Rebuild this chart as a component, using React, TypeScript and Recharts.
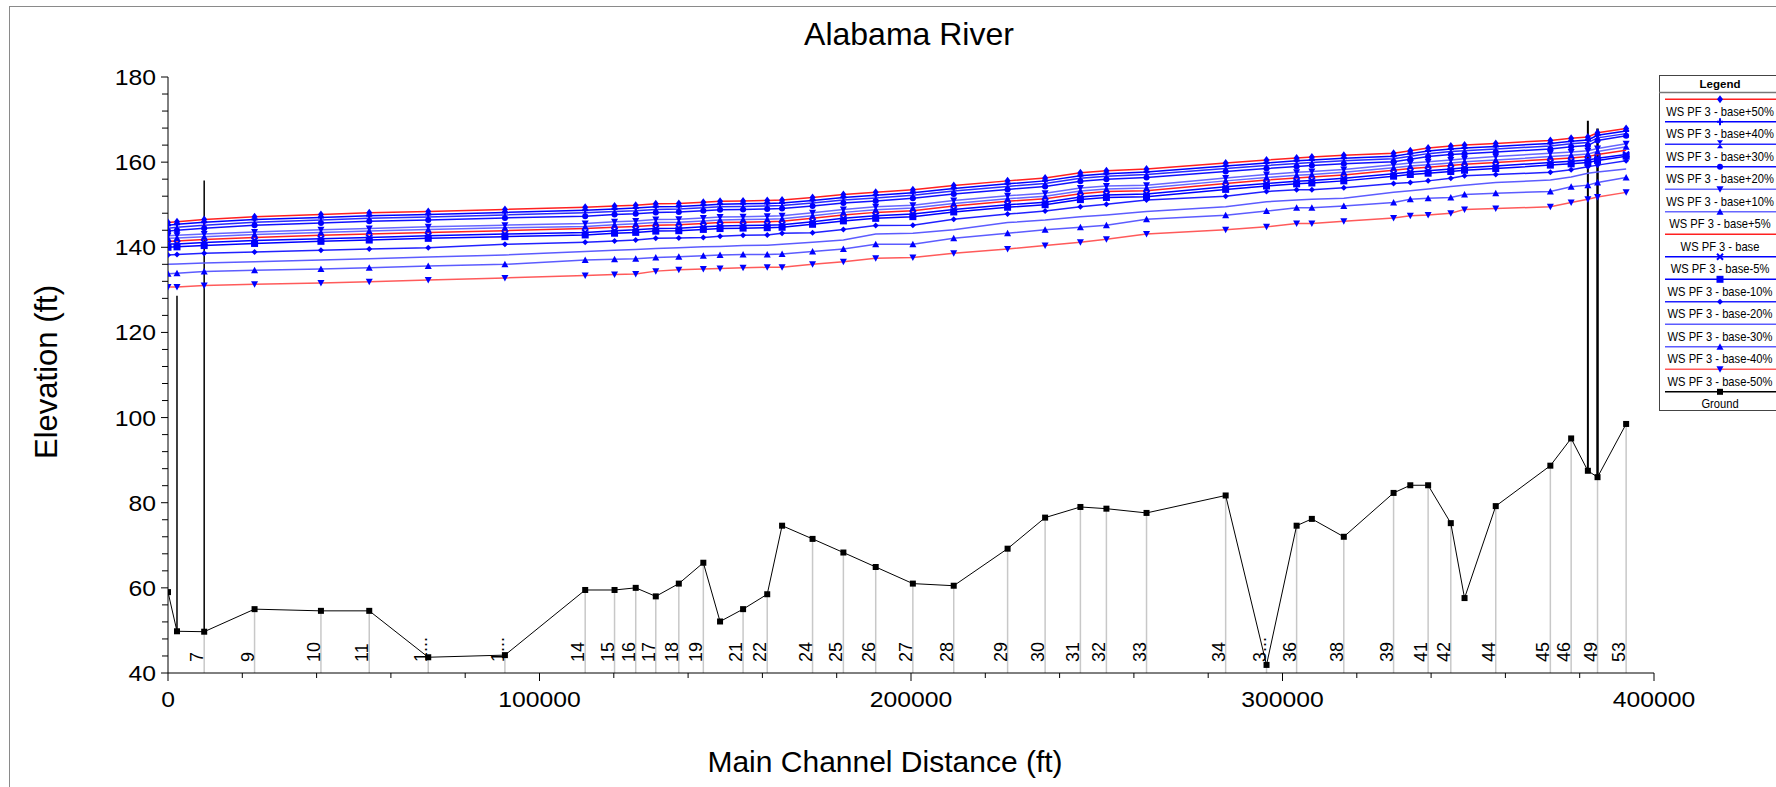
import React from "react";
import { ComposedChart, Line, XAxis, YAxis, ReferenceLine } from "recharts";

// cross sections along the main channel (ft) and their river station names
const stationX = [0, 2420, 9740, 23300, 41170, 54170, 70050, 90690, 112300, 120200, 125900, 131300, 137500, 144100, 148600, 154800, 161300, 165300, 173500, 181800, 190500, 200500, 211500, 226000, 236100, 245600, 252600, 263400, 284700, 295700, 303800, 307900, 316500, 329900, 334400, 339200, 345300, 349000, 357400, 372100, 377700, 382200, 384800, 392500];
const stationLabel = ["", "", "7", "9", "10", "11", "1...", "1...", "14", "15", "16", "17", "18", "19", "", "21", "22", "", "24", "25", "26", "27", "28", "29", "30", "31", "32", "33", "34", "3...", "36", "", "38", "39", "", "41", "42", "", "44", "45", "46", "", "49", "53"];
const ground = [59.0, 49.8, 49.7, 55.0, 54.6, 54.6, 43.7, 44.2, 59.5, 59.5, 60.0, 58.0, 61.0, 65.9, 52.1, 55.0, 58.5, 74.6, 71.5, 68.3, 64.9, 61.0, 60.5, 69.2, 76.5, 79.0, 78.6, 77.6, 81.7, 41.9, 74.6, 76.2, 72.0, 82.3, 84.1, 84.1, 75.2, 57.6, 79.2, 88.7, 95.1, 87.5, 86.0, 98.5];

// water surface elevations, profile PF 3
const wsPlus50 = [145.8, 146.0, 146.5, 147.2, 147.7, 148.1, 148.4, 148.9, 149.4, 149.7, 149.9, 150.2, 150.3, 150.6, 150.8, 150.9, 151.0, 151.1, 151.7, 152.4, 152.9, 153.5, 154.5, 155.6, 156.3, 157.5, 158.0, 158.4, 159.8, 160.5, 161.0, 161.2, 161.6, 162.1, 162.7, 163.3, 163.8, 164.0, 164.4, 165.1, 165.6, 165.9, 166.9, 167.9];
const wsPlus40 = [145.2, 145.4, 145.9, 146.5, 147.0, 147.4, 147.7, 148.2, 148.7, 149.0, 149.2, 149.5, 149.6, 149.9, 150.1, 150.2, 150.3, 150.4, 151.0, 151.7, 152.2, 152.8, 153.8, 154.9, 155.6, 156.8, 157.3, 157.7, 159.1, 159.8, 160.3, 160.5, 160.9, 161.4, 162.0, 162.6, 163.1, 163.3, 163.7, 164.4, 164.9, 165.2, 166.3, 167.3];
const wsPlus30 = [144.5, 144.7, 145.2, 145.9, 146.4, 146.8, 147.1, 147.6, 148.1, 148.4, 148.6, 148.9, 149.0, 149.3, 149.5, 149.6, 149.7, 149.8, 150.4, 151.1, 151.6, 152.2, 153.2, 154.3, 155.0, 156.2, 156.7, 157.1, 158.5, 159.2, 159.7, 159.9, 160.3, 160.8, 161.4, 162.0, 162.5, 162.7, 163.1, 163.8, 164.3, 164.6, 165.7, 166.7];
const wsPlus20 = [143.8, 144.0, 144.5, 145.2, 145.7, 146.1, 146.4, 146.9, 147.3, 147.7, 147.9, 148.2, 148.3, 148.6, 148.8, 148.9, 149.0, 149.1, 149.7, 150.4, 150.9, 151.5, 152.5, 153.6, 154.3, 155.5, 156.0, 156.4, 157.8, 158.5, 159.0, 159.2, 159.6, 160.1, 160.7, 161.3, 161.8, 162.0, 162.4, 163.1, 163.6, 163.9, 165.1, 166.2];
const wsPlus10 = [142.7, 142.8, 143.1, 143.6, 144.1, 144.4, 144.8, 145.2, 145.6, 146.0, 146.2, 146.5, 146.6, 146.9, 147.1, 147.2, 147.3, 147.4, 148.1, 148.9, 149.5, 149.9, 151.0, 152.1, 152.7, 153.9, 154.4, 154.6, 156.3, 157.1, 157.6, 157.8, 158.3, 159.4, 159.8, 160.1, 160.5, 160.8, 161.3, 162.1, 162.4, 162.7, 163.2, 164.3];
const wsPlus5 = [142.1, 142.2, 142.5, 143.0, 143.5, 143.8, 144.2, 144.6, 144.9, 145.3, 145.5, 145.8, 145.9, 146.2, 146.4, 146.5, 146.6, 146.7, 147.4, 148.2, 148.8, 149.2, 150.3, 151.4, 152.0, 153.2, 153.7, 153.9, 155.6, 156.4, 156.9, 157.1, 157.6, 158.7, 159.1, 159.4, 159.8, 160.1, 160.5, 161.3, 161.6, 161.9, 162.5, 163.6];
const wsBase = [141.4, 141.5, 141.8, 142.3, 142.8, 143.1, 143.5, 143.9, 144.4, 144.7, 144.9, 145.2, 145.3, 145.6, 145.8, 145.9, 146.0, 146.1, 146.8, 147.6, 148.2, 148.6, 149.7, 150.8, 151.4, 152.6, 153.1, 153.3, 155.0, 155.8, 156.3, 156.5, 157.0, 158.1, 158.5, 158.8, 159.2, 159.5, 159.9, 160.7, 161.0, 161.3, 161.8, 162.8];
const wsMinus5 = [140.8, 140.8, 141.1, 141.6, 142.0, 142.3, 142.7, 143.1, 143.5, 143.9, 144.1, 144.4, 144.5, 144.8, 145.0, 145.1, 145.2, 145.3, 146.0, 146.8, 147.4, 147.8, 148.9, 150.0, 150.6, 151.8, 152.3, 152.5, 154.2, 155.0, 155.5, 155.7, 156.2, 157.3, 157.7, 158.0, 158.4, 158.7, 159.1, 159.9, 160.2, 160.5, 160.9, 161.8];
const wsMinus10 = [140.0, 140.1, 140.4, 140.9, 141.4, 141.7, 142.1, 142.5, 142.9, 143.3, 143.5, 143.8, 143.9, 144.2, 144.4, 144.5, 144.6, 144.7, 145.4, 146.2, 146.8, 147.2, 148.3, 149.4, 150.0, 151.2, 151.7, 151.9, 153.6, 154.4, 154.9, 155.1, 155.6, 156.7, 157.1, 157.4, 157.8, 158.1, 158.5, 159.3, 159.6, 159.9, 160.4, 161.4];
const wsMinus20 = [138.2, 138.3, 138.6, 138.9, 139.3, 139.6, 139.9, 140.7, 141.2, 141.5, 141.7, 142.1, 142.2, 142.3, 142.6, 142.8, 142.9, 143.3, 143.4, 144.2, 145.1, 145.2, 146.6, 147.8, 148.5, 149.5, 150.1, 151.1, 152.0, 153.1, 153.5, 153.5, 154.0, 155.0, 155.2, 155.6, 156.2, 156.8, 157.1, 157.6, 158.2, 158.9, 159.3, 160.3];
const wsMinus30 = [136.0, 136.1, 136.3, 136.6, 137.0, 137.3, 137.7, 138.2, 139.0, 139.3, 139.5, 139.7, 139.9, 140.1, 140.2, 140.4, 140.5, 140.7, 141.2, 141.7, 143.1, 143.3, 144.1, 145.8, 146.4, 147.2, 147.6, 148.4, 149.5, 150.7, 151.1, 151.3, 151.5, 152.9, 153.3, 153.7, 154.3, 154.6, 155.2, 155.8, 156.5, 157.4, 157.7, 158.4];
const wsMinus40 = [133.8, 133.9, 134.3, 134.6, 134.9, 135.2, 135.6, 136.0, 137.0, 137.2, 137.3, 137.6, 137.8, 138.0, 138.2, 138.3, 138.3, 138.4, 139.0, 139.6, 140.7, 140.7, 142.1, 143.3, 144.1, 144.7, 145.2, 146.6, 147.5, 148.5, 149.3, 149.3, 149.7, 150.5, 151.3, 151.5, 151.7, 152.4, 152.7, 153.1, 154.2, 154.6, 155.2, 156.4];
const wsMinus50 = [130.7, 130.7, 131.0, 131.3, 131.6, 131.9, 132.3, 132.8, 133.4, 133.6, 133.7, 134.4, 134.7, 134.9, 135.0, 135.2, 135.3, 135.3, 136.0, 136.6, 137.4, 137.6, 138.6, 139.6, 140.4, 141.2, 141.9, 143.1, 144.1, 144.8, 145.6, 145.6, 146.1, 146.9, 147.4, 147.6, 148.0, 148.9, 149.1, 149.5, 150.5, 151.3, 151.8, 152.9];

// bridge / structure outlines: station, low and high elevation
const structureX = [2420, 9740, 382200, 384800];
const structureLow = [49.8, 49.7, 87.5, 86.0];
const structureHigh = [128.6, 155.7, 169.7, 167.9];
const structureWidth = [1.5, 1.5, 2, 2.5];
const deckX = [9740, 382200];
const deckLow = [143.3, 163.5];
const deckHigh = [145.9, 165.2];

const xTicks = [0, 20000, 40000, 60000, 80000, 100000, 120000, 140000, 160000, 180000, 200000, 220000, 240000, 260000, 280000, 300000, 320000, 340000, 360000, 380000, 400000];
const yTicks = [40, 44, 48, 52, 56, 60, 64, 68, 72, 76, 80, 84, 88, 92, 96, 100, 104, 108, 112, 116, 120, 124, 128, 132, 136, 140, 144, 148, 152, 156, 160, 164, 168, 172, 176, 180];

const FONT = "'Liberation Sans', Arial, sans-serif";
const MARK = "#0000ff";

type MarkerKind = "diamond" | "plus" | "bowtie" | "circle" | "triDown" | "triUp" | "cross" | "square" | "dot" | "none" | "ground";

const series: { key: string; name: string; values: number[]; color: string; marker: MarkerKind }[] = [
  { key: "p50", name: "WS  PF 3 - base+50%", values: wsPlus50, color: "#ff2020", marker: "diamond" },
  { key: "p40", name: "WS  PF 3 - base+40%", values: wsPlus40, color: "#0000ff", marker: "plus" },
  { key: "p30", name: "WS  PF 3 - base+30%", values: wsPlus30, color: "#2a2aff", marker: "bowtie" },
  { key: "p20", name: "WS  PF 3 - base+20%", values: wsPlus20, color: "#1010ff", marker: "circle" },
  { key: "p10", name: "WS  PF 3 - base+10%", values: wsPlus10, color: "#6666ff", marker: "triDown" },
  { key: "p5", name: "WS  PF 3 - base+5%", values: wsPlus5, color: "#6666ff", marker: "triUp" },
  { key: "base", name: "WS  PF 3 - base", values: wsBase, color: "#ff2020", marker: "none" },
  { key: "m5", name: "WS  PF 3 - base-5%", values: wsMinus5, color: "#0000ff", marker: "cross" },
  { key: "m10", name: "WS  PF 3 - base-10%", values: wsMinus10, color: "#0000ff", marker: "square" },
  { key: "m20", name: "WS  PF 3 - base-20%", values: wsMinus20, color: "#2020ff", marker: "dot" },
  { key: "m30", name: "WS  PF 3 - base-30%", values: wsMinus30, color: "#5c5cff", marker: "none" },
  { key: "m40", name: "WS  PF 3 - base-40%", values: wsMinus40, color: "#5c5cff", marker: "triUp" },
  { key: "m50", name: "WS  PF 3 - base-50%", values: wsMinus50, color: "#ff5a5a", marker: "triDown" },
];

const rows = stationX.map((x, i) => {
  const row: Record<string, number> = { x, ground: ground[i] };
  series.forEach((s) => {
    row[s.key] = s.values[i];
  });
  return row;
});

function Marker({ kind, cx, cy }: { kind: MarkerKind; cx: number; cy: number }) {
  switch (kind) {
    case "diamond":
      return <polygon points={`${cx},${cy - 4} ${cx + 3},${cy} ${cx},${cy + 4} ${cx - 3},${cy}`} fill={MARK} />;
    case "plus":
      return <path d={`M${cx - 3},${cy}H${cx + 3}M${cx},${cy - 3.5}V${cy + 3.5}`} stroke={MARK} strokeWidth={2} />;
    case "bowtie":
      return <polygon points={`${cx - 3},${cy - 4} ${cx + 3},${cy - 4} ${cx},${cy} ${cx + 3},${cy + 4} ${cx - 3},${cy + 4} ${cx},${cy}`} fill={MARK} />;
    case "circle":
      return <circle cx={cx} cy={cy} r={3} fill={MARK} />;
    case "triDown":
      return <polygon points={`${cx - 3.5},${cy - 3} ${cx + 3.5},${cy - 3} ${cx},${cy + 3.5}`} fill={MARK} />;
    case "triUp":
      return <polygon points={`${cx - 3.5},${cy + 3} ${cx + 3.5},${cy + 3} ${cx},${cy - 3.5}`} fill={MARK} />;
    case "cross":
      return <path d={`M${cx - 3},${cy - 3}L${cx + 3},${cy + 3}M${cx + 3},${cy - 3}L${cx - 3},${cy + 3}`} stroke={MARK} strokeWidth={2} />;
    case "square":
      return <rect x={cx - 3.5} y={cy - 3.5} width={7} height={7} fill={MARK} />;
    case "dot":
      return <polygon points={`${cx},${cy - 3} ${cx + 3},${cy} ${cx},${cy + 3} ${cx - 3},${cy}`} fill={MARK} />;
    case "ground":
      return <rect x={cx - 3} y={cy - 3} width={6} height={6} fill="#000" />;
    default:
      return null;
  }
}

const makeDot = (kind: MarkerKind, key: string) => (p: any) => {
  if (kind === "none" || p.cx == null || p.cy == null) return <g key={`${key}-${p.index}`} />;
  return (
    <g key={`${key}-${p.index}`}>
      <Marker kind={kind} cx={p.cx} cy={p.cy} />
    </g>
  );
};

const XTick = (props: any) => {
  const { x, y, payload } = props;
  const major = payload.value % 100000 === 0;
  return (
    <g>
      <line x1={x} x2={x} y1={y} y2={y + (major ? 8 : 5)} stroke="#000" />
      {major && (
        <text x={0} y={0} transform={`translate(${x},${y + 34}) scale(1.15,1)`} textAnchor="middle" fontSize={21.5} fontFamily={FONT} fill="#000">
          {payload.value}
        </text>
      )}
    </g>
  );
};

const YTick = (props: any) => {
  const { x, y, payload } = props;
  const major = payload.value % 20 === 0;
  return (
    <g>
      <line x1={x} x2={x - (major ? 7 : 6)} y1={y} y2={y} stroke="#000" />
      {major && (
        <text x={0} y={0} transform={`translate(${x - 12},${y + 8}) scale(1.15,1)`} textAnchor="end" fontSize={21.5} fontFamily={FONT} fill="#000">
          {payload.value}
        </text>
      )}
    </g>
  );
};

const stationText = (text: string) => (p: any) => {
  const vb = p.viewBox || {};
  const bx = (vb.x ?? 0) - 1;
  const by = (vb.y ?? 0) + (vb.height ?? 0) - 11;
  return (
    <text transform={`translate(${bx},${by}) rotate(-90)`} fontSize={18} fontFamily={FONT} fill="#000">
      {text}
    </text>
  );
};

function ChartLegend() {
  const top = 24.3;
  const step = 22.5;
  const entries = [...series.map((s) => ({ name: s.name, color: s.color, marker: s.marker })), { name: "Ground", color: "#000", marker: "ground" as MarkerKind }];
  return (
    <svg width={117} height={340} style={{ position: "absolute", left: 1659, top: 75 }}>
      <rect x={0.5} y={0.5} width={130} height={335} fill="#fff" stroke="#444" />
      <text x={61} y={13} textAnchor="middle" fontSize={11.5} fontWeight="bold" fontFamily={FONT}>
        Legend
      </text>
      <line x1={0} x2={117} y1={17.5} y2={17.5} stroke="#777" strokeWidth={1.5} />
      {entries.map((e, i) => {
        const ly = top + i * step;
        return (
          <g key={e.name}>
            <line x1={6} x2={117} y1={ly} y2={ly} stroke={e.color} strokeWidth={1.5} />
            <Marker kind={e.marker} cx={61} cy={ly} />
            <text transform={`translate(61,${ly + 16.5}) scale(0.86,1)`} textAnchor="middle" fontSize={13} fontFamily={FONT}>
              {e.name}
            </text>
          </g>
        );
      })}
    </svg>
  );
}

export default function App() {
  return (
    <div style={{ position: "fixed", left: 0, top: 0, width: 1776, height: 787, background: "#fff", overflow: "hidden" }}>
      <div style={{ position: "absolute", left: 9, top: 6, width: 1800, height: 800, border: "1px solid #8a8a8a" }} />
      <div style={{ position: "absolute", left: 0, top: 0 }}>
        <ComposedChart width={1776} height={787} data={rows} margin={{ top: 77, right: 122, bottom: 74, left: 108 }}>
          <XAxis
            dataKey="x"
            type="number"
            domain={[0, 400000]}
            ticks={xTicks}
            interval={0}
            tickSize={0}
            tickMargin={0}
            tick={<XTick />}
            height={40}
            axisLine={{ stroke: "#000" }}
            allowDataOverflow
          />
          <YAxis
            type="number"
            domain={[40, 180]}
            ticks={yTicks}
            interval={0}
            tickSize={0}
            tickMargin={0}
            tick={<YTick />}
            width={60}
            axisLine={{ stroke: "#000" }}
            allowDataOverflow
          />
          {stationX.map((x, i) =>
            stationLabel[i] ? (
              <ReferenceLine
                key={`st-${i}`}
                segment={[{ x, y: 40 }, { x, y: ground[i] }]}
                stroke="#c8c8c8"
                strokeWidth={1.5}
                label={stationText(stationLabel[i])}
              />
            ) : null
          )}
          <Line dataKey="ground" stroke="#000" strokeWidth={1} dot={makeDot("ground", "ground")} isAnimationActive={false} />
          {structureX.map((x, i) => (
            <ReferenceLine key={`bs-${i}`} segment={[{ x, y: structureLow[i] }, { x, y: structureHigh[i] }]} stroke="#000" strokeWidth={structureWidth[i]} />
          ))}
          {series.map((s) => (
            <Line
              key={s.key}
              dataKey={s.key}
              name={s.name}
              stroke={s.color}
              strokeWidth={1.5}
              dot={makeDot(s.marker, s.key)}
              isAnimationActive={false}
            />
          ))}
          {deckX.map((x, i) => (
            <ReferenceLine key={`dk-${i}`} segment={[{ x, y: deckLow[i] }, { x, y: deckHigh[i] }]} stroke="#ff0000" strokeWidth={2} />
          ))}
        </ComposedChart>
      </div>
      <svg width={1776} height={787} style={{ position: "absolute", left: 0, top: 0, pointerEvents: "none" }}>
        <text x={909} y={45} textAnchor="middle" fontSize={32} fontFamily={FONT}>
          Alabama River
        </text>
        <text x={885} y={772} textAnchor="middle" fontSize={30} fontFamily={FONT}>
          Main Channel Distance (ft)
        </text>
        <text transform="translate(57,372) rotate(-90)" textAnchor="middle" fontSize={31} fontFamily={FONT}>
          Elevation (ft)
        </text>
      </svg>
      <ChartLegend />
    </div>
  );
}
